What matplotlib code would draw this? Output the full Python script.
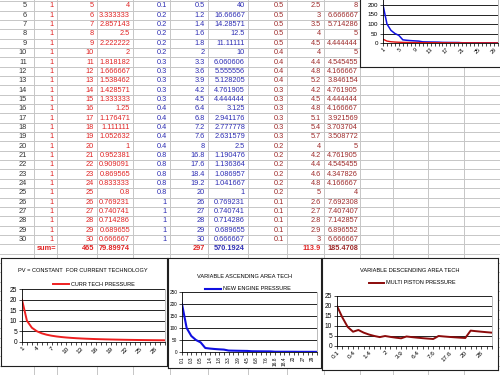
import matplotlib.pyplot as plt

plt.rcParams["font.family"] = ["Liberation Sans", "DejaVu Sans"]

W, H = 500, 375

# ---- sheet data (rows 1..30; the sheet shows rows 5..30) ----
row_ids = [5, 6, 7, 8, 9, 10, 11, 12, 13, 14, 15, 16, 17, 18, 19, 20,
           21, 22, 23, 24, 25, 26, 27, 28, 29, 30]
n_vals = [1, 2, 3, 4, 5, 6, 7, 8, 9, 10, 11, 12, 13, 14, 15, 16, 17, 18,
          19, 20, 21, 22, 23, 24, 25, 26, 27, 28, 29, 30]
col_b = [1, 1, 1, 1, 1, 1, 1, 1, 1, 1, 1, 1, 1, 1, 1, 1, 1, 1, 1, 1, 1,
         1, 1, 1, 1, 1, 1, 1, 1, 1]
curr_tech = [20, 10, 6.666667, 5, 4, 3.333333, 2.857143, 2.5, 2.222222, 2,
             1.818182, 1.666667, 1.538462, 1.428571, 1.333333, 1.25,
             1.176471, 1.111111, 1.052632, 1, 0.952381, 0.909091,
             0.869565, 0.833333, 0.8, 0.769231, 0.740741, 0.714286,
             0.689655, 0.666667]
col_e = [0.1, 0.1, 0.1, 0.1, 0.1, 0.2, 0.2, 0.2, 0.2, 0.2, 0.3, 0.3, 0.3,
         0.3, 0.3, 0.4, 0.4, 0.4, 0.4, 0.4, 0.8, 0.8, 0.8, 0.8, 0.8, 1, 1,
         1, 1, 1]
area_f = [0.1, 0.2, 0.3, 0.4, 0.5, 1.2, 1.4, 1.6, 1.8, 2, 3.3, 3.6, 3.9,
          4.2, 4.5, 6.4, 6.8, 7.2, 7.6, 8, 16.8, 17.6, 18.4, 19.2, 20, 26,
          27, 28, 29, 30]
new_engine = [200, 100, 66.66667, 50, 40, 16.66667, 14.28571, 12.5,
              11.11111, 10, 6.060606, 5.555556, 5.128205, 4.761905,
              4.444444, 3.125, 2.941176, 2.777778, 2.631579, 2.5, 1.190476,
              1.136364, 1.086957, 1.041667, 1, 0.769231, 0.740741,
              0.714286, 0.689655, 0.666667]
col_h = [1, 0.7, 0.7, 0.7, 0.5, 0.5, 0.5, 0.5, 0.5, 0.4, 0.4, 0.4, 0.4,
         0.3, 0.3, 0.3, 0.3, 0.3, 0.3, 0.2, 0.2, 0.2, 0.2, 0.2, 0.2, 0.1,
         0.1, 0.1, 0.1, 0.1]
col_i = [1, 1.4, 2.1, 2.8, 2.5, 3, 3.5, 4, 4.5, 4, 4.4, 4.8, 5.2, 4.2, 4.5,
         4.8, 5.1, 5.4, 5.7, 4, 4.2, 4.4, 4.6, 4.8, 5, 2.6, 2.7, 2.8, 2.9, 3]
multi_piston = [20, 14.28571, 9.52381, 7.142857, 8, 6.666667, 5.714286, 5,
                4.444444, 5, 4.545455, 4.166667, 3.846154, 4.761905,
                4.444444, 4.166667, 3.921569, 3.703704, 3.508772, 5,
                4.761905, 4.545455, 4.347826, 4.166667, 4, 7.692308,
                7.407407, 7.142857, 6.896552, 6.666667]

sum_c, sum_d, sum_f = 465, 79.89974, 297
sum_g, sum_i, sum_j = 570.1924, 113.9, 185.4708

RED = "#E02424"
BLUE = "#2E2EB4"
MAROON = "#9E2B2B"
GRID = "#C6C6C6"
CELL_FONT = 5.3


def fmt(v):
    # excel "General" in a narrow column: 8 characters
    s = f"{v:.{max(0, 7 - len(str(int(abs(v)))))}f}"
    if "." in s:
        s = s.rstrip("0").rstrip(".")
    return s


def rect(x0, y0, x1, y1):
    return [x0 / W, 1 - y1 / H, (x1 - x0) / W, (y1 - y0) / H]


fig = plt.figure(figsize=(5, 3.75), dpi=100)

# ---- spreadsheet background ----
bg = fig.add_axes([0, 0, 1, 1])
bg.set_xlim(0, W)
bg.set_ylim(H, 0)
bg.axis("off")

ROW_H = 9.35
for k in range(41):
    bg.axhline(1.15 + ROW_H * k, color=GRID, lw=0.7)
for x in [34, 57, 97, 133, 170, 208, 248, 287, 324, 360, 393, 428, 464]:
    bg.axvline(x, color=GRID, lw=0.7)

shown = slice(4, 30)
columns = [
    (27, row_ids, "#333333"),
    (54, col_b[shown], RED),
    (94, n_vals[shown], RED),
    (130, curr_tech[shown], RED),
    (167, col_e[shown], BLUE),
    (205, area_f[shown], BLUE),
    (245, new_engine[shown], BLUE),
    (284, col_h[shown], MAROON),
    (321, col_i[shown], MAROON),
    (358, multi_piston[shown], MAROON),
]
for x, vals, color in columns:
    for k, v in enumerate(vals):
        bg.text(x, 5.9 + ROW_H * k, fmt(v), ha="right", va="center",
                fontsize=CELL_FONT, color=color)

y_sum = 5.9 + ROW_H * 26
bg.text(37, y_sum, "sum=", ha="left", va="center", fontsize=CELL_FONT,
        color=RED, fontweight="bold")
for x, v, color in [(94, sum_c, RED), (130, sum_d, RED), (205, sum_f, RED),
                    (245, sum_g, BLUE), (321, sum_i, RED),
                    (358, sum_j, MAROON)]:
    bg.text(x, y_sum, fmt(v), ha="right", va="center", fontsize=CELL_FONT,
            color=color, fontweight="bold")


# ---- embedded charts ----
def make_chart(frame, plot, ymax, ystep, ylab_size, ytop=None):
    fr = fig.add_axes(rect(*frame))
    fr.set_xticks([])
    fr.set_yticks([])
    fr.set_facecolor("white")
    for sp in fr.spines.values():
        sp.set_color("#202020")
        sp.set_linewidth(0.8)

    ax = fig.add_axes(rect(*plot))
    ax.set_facecolor("white")
    ax.set_ylim(0, ymax)
    ax.set_yticks(range(0, (ytop or ymax) + 1, ystep))
    ax.yaxis.grid(True, color="black", lw=0.6)
    ax.set_axisbelow(True)
    ax.tick_params(axis="y", length=2, width=0.5, pad=1.5,
                   labelsize=ylab_size)
    ax.tick_params(axis="x", length=2, width=0.5, pad=1)
    ax.spines["left"].set_linewidth(0.6)
    ax.spines["bottom"].set_linewidth(0.6)
    ax.spines["top"].set_visible(False)
    ax.spines["right"].set_color("#A0A0A0")
    ax.spines["right"].set_linewidth(0.5)
    return ax


def cat_axis(ax, labels, step, rot, size):
    ax.set_xlim(0, len(labels) - 1)
    ax.set_xticks(range(len(labels)))
    ax.set_xticklabels([str(lb) if i % step == 0 else ""
                        for i, lb in enumerate(labels)])
    if rot == 90:
        plt.setp(ax.get_xticklabels(), rotation=90, ha="center", va="top",
                 fontsize=size)
    else:
        plt.setp(ax.get_xticklabels(), rotation=rot, ha="right", va="top",
                 rotation_mode="anchor", fontsize=size)


def title_and_legend(ax, title, tx, ty, lx, ly):
    fig.text(tx / W, 1 - ty / H, title, ha="center", va="center",
             fontsize=4.1)
    ax.legend(loc="center", bbox_to_anchor=(lx / W, 1 - ly / H),
              bbox_transform=fig.transFigure, frameon=False, fontsize=4.0,
              handlelength=2.8, handletextpad=0.3, borderpad=0)


# top right chart (cropped by the window edge)
ax0 = make_chart((360, -12, 512, 67), (383, -4.5, 498, 43), 250, 50, 4.5,
                 ytop=200)
ax0.plot(range(30), new_engine, color="#1010E0", lw=1.1)
ax0.plot(range(30), curr_tech, color="#E01010", lw=1.0)
cat_axis(ax0, n_vals, 4, 45, 4.0)

# PV = constant
ax1 = make_chart((1, 258, 167, 366), (22, 289.3, 165, 341.7), 25, 5, 4.8)
ax1.plot(range(30), curr_tech, color="#EE2020", lw=1.4,
         label="CURR TECH PRESSURE")
cat_axis(ax1, n_vals, 3, 45, 4.6)
title_and_legend(ax1, "PV = CONSTANT  FOR CURRENT TECHNOLOGY", 83, 270, 94, 284)

# variable ascending area
ax2 = make_chart((168, 258, 321, 368), (182, 292, 317, 352), 250, 50, 3.4)
ax2.plot(range(30), new_engine, color="#1010E0", lw=1.5,
         label="NEW ENGINE PRESSURE")
cat_axis(ax2, area_f, 2, 90, 3.4)
title_and_legend(ax2, "VARIABLE ASCENDING AREA TECH", 245, 277, 248, 289)

# variable descending area
ax3 = make_chart((322, 258, 498, 370), (337, 296, 492, 346), 25, 5, 4.8)
ax3.plot(range(30), multi_piston, color="#8B0A0A", lw=1.4,
         label="MULTI PISTON PRESSURE")
cat_axis(ax3, area_f, 3, 45, 4.6)
title_and_legend(ax3, "VARIABLE DESCENDING AREA TECH", 410, 271, 412, 283)

fig.savefig("out.png", dpi=100)
